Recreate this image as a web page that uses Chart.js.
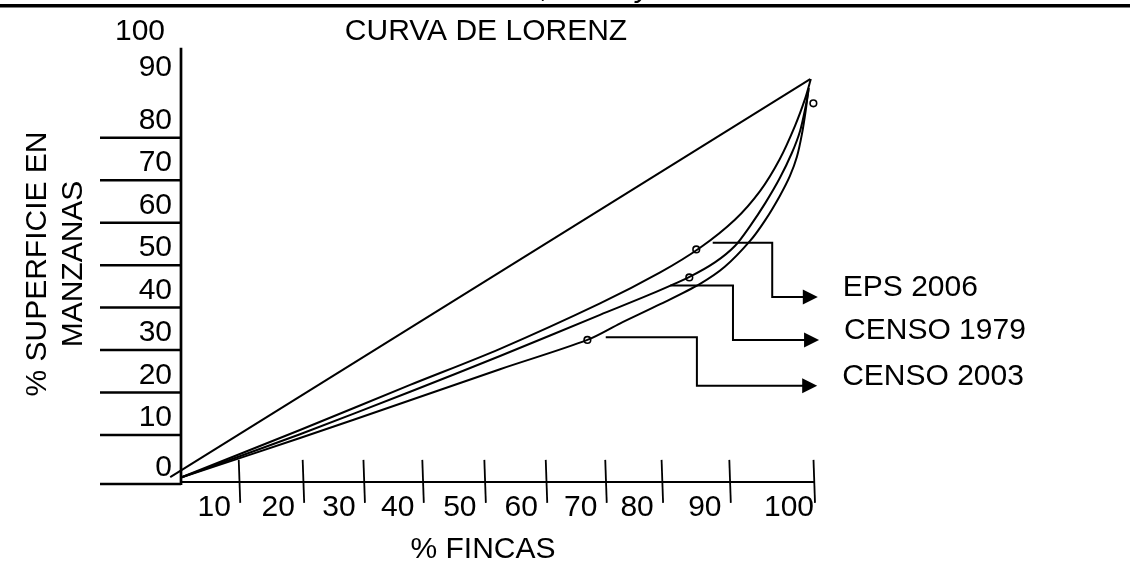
<!DOCTYPE html>
<html>
<head>
<meta charset="utf-8">
<script src="https://cdn.jsdelivr.net/npm/chart.js@4.4.1/dist/chart.umd.min.js"></script>
<style>
	html, body { margin: 0; background: #fff; }
	canvas { display: block; }
</style>
</head>
<body>
<canvas id="lorenz" width="1130" height="566"></canvas>
<script>
// tick labels (% fincas / % superficie en manzanas)
const xTickLabels = ['10', '20', '30', '40', '50', '60', '70', '80', '90', '100'];
// where the hand drawn tick marks sit on the % fincas scale
const xTickValues = [9.2, 19.3, 28.9, 38.2, 48.0, 57.7, 67.1, 76.0, 86.7, 100];
const yTickLabels = ['0', '10', '20', '30', '40', '50', '60', '70', '80', '90', '100'];
const yTickValues = [0, 10, 20, 30, 40, 50, 60, 70, 80, 90, 100];

const seriesNames = ['EPS 2006', 'CENSO 1979', 'CENSO 2003'];

// curves: x = % fincas, y = % superficie
const eps2006X = [0, 18.8, 36.2, 50.4, 66.2, 75.7, 82.0, 87.5, 91.5, 94.6, 97.0, 98.6, 99.5];
const eps2006Y = [0, 11.2, 21.8, 30.3, 41.0, 48.3, 54.1, 60.7, 67.5, 75.0, 82.8, 89.2, 93.8];
const censo1979X = [0, 18.8, 36.2, 50.4, 66.2, 74.1, 80.4, 84.4, 87.5, 89.9, 92.3, 94.6, 96.5, 97.8, 98.7, 99.2];
const censo1979Y = [0, 10.2, 20.2, 28.6, 38.3, 43.1, 47.3, 50.7, 54.5, 59.2, 64.6, 70.5, 76.4, 81.6, 87.5, 91.7];
const censo2003X = [0, 18.8, 36.2, 50.4, 64.2, 69.4, 75.7, 82.0, 85.9, 89.9, 92.3, 94.6, 96.2, 97.3, 98.1, 98.7, 99.1];
const censo2003Y = [0, 9.3, 18.2, 25.5, 32.4, 36.3, 40.8, 45.6, 49.6, 55.7, 60.6, 66.3, 71.0, 75.5, 80.9, 86.5, 91.2];

// line of equality
const equalityX = [-1.7, 99.4];
const equalityY = [0.1, 93.8];

// small hollow circles
const markerX = [81.4, 80.3, 64.2, 99.9];
const markerY = [53.7, 47.1, 32.4, 88.1];

// leader lines from each curve to its name (data units)
const callouts = [
	{ name: seriesNames[0], path: [[84.0, 55.3], [93.4, 55.3], [93.4, 42.5], [100.6, 42.5]] },
	{ name: seriesNames[1], path: [[77.3, 45.2], [87.2, 45.2], [87.2, 32.4], [100.8, 32.4]] },
	{ name: seriesNames[2], path: [[67.1, 33.0], [81.5, 33.0], [81.5, 21.6], [100.5, 21.6]] },
];

const FONT = '30px "Liberation Sans", Arial, sans-serif';

let toPoints = (xs, ys) => xs.map((x, i) => ({ x: x, y: ys[i] }));

let curve = (label, xs, ys) => ({
	label: label,
	data: toPoints(xs, ys),
	borderColor: '#000',
	borderWidth: 2,
	pointRadius: 0,
	fill: false,
	tension: 0.3,
	clip: false,
});

// axes, labels, titles and leader lines
let lorenzFrame = {
	id: 'lorenzFrame',
	beforeDatasetsDraw (chart) {
		let { ctx, chartArea: a, scales: { x, y } } = chart;
		let line = (x1, y1, x2, y2) => {
			ctx.beginPath();
			ctx.moveTo(x1, y1);
			ctx.lineTo(x2, y2);
			ctx.stroke();
		};
		ctx.save();
		ctx.strokeStyle = '#000';
		ctx.fillStyle = '#000';

		// rule at the top of the page and the cut text above it
		ctx.lineWidth = 3.5;
		line(0, 5.7, chart.width, 5.7);
		ctx.font = 'italic ' + FONT;
		ctx.textBaseline = 'alphabetic';
		ctx.fillText(',', 541, -3);
		ctx.fillText('y', 636, -3);

		// y axis
		ctx.lineWidth = 2.7;
		line(a.left, a.top - 5, a.left, a.bottom + 1);
		ctx.lineWidth = 2.5;
		ctx.font = FONT;
		ctx.textAlign = 'right';
		ctx.textBaseline = 'middle';
		yTickValues.forEach((v, i) => {
			let py = v === 0 ? a.bottom : y.getPixelForValue(v);
			if (v <= 80) { line(a.left - 81, py, a.left, py); }
			// the hand placed labels: 0 sits on the bottom rule, 90 and 100 float higher
			let lift = v === 0 ? 16 : v === 90 ? 27 : v === 100 ? 21 : 17;
			let right = v === 100 ? a.left - 16 : a.left - 9;
			ctx.fillText(yTickLabels[i], right, py - lift);
		});

		// x axis
		ctx.lineWidth = 2;
		line(a.left, a.bottom - 2, a.right, a.bottom - 2);
		ctx.lineWidth = 1.8;
		ctx.textAlign = 'center';
		xTickValues.forEach((v, i) => {
			let px = x.getPixelForValue(v);
			line(px - 0.5, a.bottom - 24, px + 1, a.bottom + 19);
			ctx.fillText(xTickLabels[i], px - 25, a.bottom + 24);
		});

		// titles
		ctx.fillText('CURVA DE LORENZ', 486, 32);
		ctx.fillText('% FINCAS', 483, 550);
		ctx.save();
		ctx.translate(38, 264);
		ctx.rotate(-Math.PI / 2);
		ctx.fillText('% SUPERFICIE EN', 0, 0);
		ctx.fillText('MANZANAS', 0, 36);
		ctx.restore();

		ctx.restore();
	},
	afterDatasetsDraw (chart) {
		let { ctx, scales: { x, y } } = chart;
		ctx.save();
		ctx.strokeStyle = '#000';
		ctx.fillStyle = '#000';
		ctx.lineWidth = 2;
		ctx.font = FONT;
		ctx.textAlign = 'left';
		ctx.textBaseline = 'middle';
		callouts.forEach(c => {
			let pts = c.path.map(p => [x.getPixelForValue(p[0]), y.getPixelForValue(p[1])]);
			let tip = pts[pts.length - 1];
			ctx.beginPath();
			pts.forEach((p, i) => {
				let px = i === pts.length - 1 ? p[0] - 12 : p[0];
				i === 0 ? ctx.moveTo(px, p[1]) : ctx.lineTo(px, p[1]);
			});
			ctx.stroke();
			// arrow head
			ctx.beginPath();
			ctx.moveTo(tip[0], tip[1]);
			ctx.lineTo(tip[0] - 15, tip[1] - 7.5);
			ctx.lineTo(tip[0] - 15, tip[1] + 7.5);
			ctx.closePath();
			ctx.fill();
			ctx.fillText(c.name, tip[0] + 25, tip[1] - 9);
		});
		ctx.restore();
	},
};

new Chart(document.getElementById('lorenz'), {
	type: 'line',
	data: {
		datasets: [
			curve(seriesNames[0], eps2006X, eps2006Y),
			curve(seriesNames[1], censo1979X, censo1979Y),
			curve(seriesNames[2], censo2003X, censo2003Y),
			{
				label: 'Igualdad',
				data: toPoints(equalityX, equalityY),
				borderColor: '#000',
				borderWidth: 2,
				pointRadius: 0,
				tension: 0,
				clip: false,
			},
			{
				label: 'Puntos',
				data: toPoints(markerX, markerY),
				showLine: false,
				pointRadius: 3.3,
				pointBorderWidth: 1.6,
				pointBorderColor: '#000',
				pointBackgroundColor: '#fff',
				clip: false,
			},
		],
	},
	options: {
		responsive: false,
		animation: false,
		devicePixelRatio: 1,
		layout: {
			padding: { left: 181, right: 316, top: 52.75, bottom: 82.1 },
		},
		plugins: {
			legend: { display: false },
			tooltip: { enabled: false },
		},
		scales: {
			x: { type: 'linear', min: 0, max: 100, display: false },
			y: { type: 'linear', min: -1.5, max: 100, display: false },
		},
	},
	plugins: [ lorenzFrame ],
});
</script>
</body>
</html>
